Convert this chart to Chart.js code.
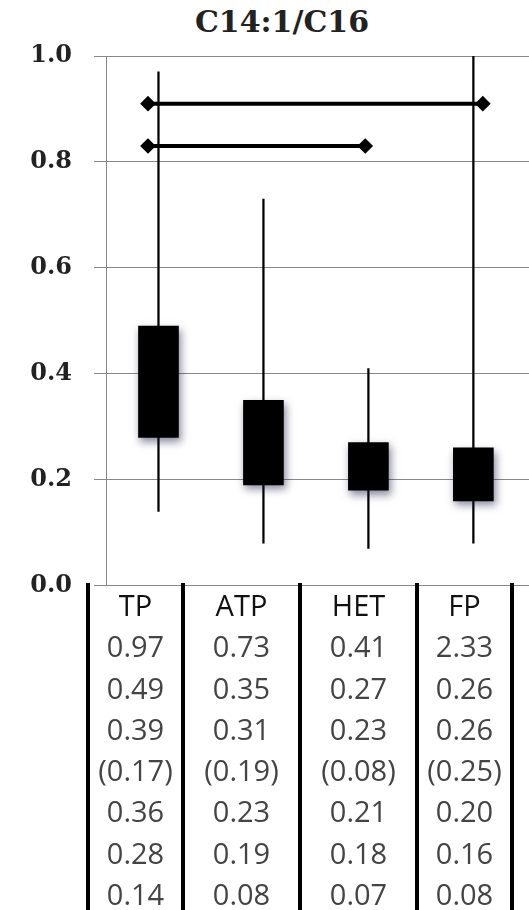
<!DOCTYPE html>
<html>
<head>
<meta charset="utf-8">
<script src="https://cdn.jsdelivr.net/npm/chart.js@4/dist/chart.umd.min.js"></script>
<style>
  html, body { margin: 0; padding: 0; background: #fff; }
  #wrap { position: relative; width: 529px; height: 910px; overflow: hidden; }
  #title { position: absolute; left: 182px; width: 200px; top: 4px; text-align: center;
           font: bold 30px "DejaVu Serif", serif; color: #222; }
  #chart { position: absolute; left: 0; top: 0; }
  .col { position: absolute; top: 584px; text-align: center;
         font: 29px "Open Sans", sans-serif; color: #444; line-height: 41.3px; }
  .col .head { color: #111; }
  .vline { position: absolute; top: 583px; width: 4px; height: 330px; background: #000; }
</style>
</head>
<body>
<div id="wrap">
  <div id="title">C14:1/C16</div>
  <canvas id="chart" width="529" height="622"></canvas>
  <div id="table"></div>
</div>
<script>
const categories = ["TP", "ATP", "HET", "FP"];
const maxVals = [0.97, 0.73, 0.41, 2.33];
const q3Vals = [0.49, 0.35, 0.27, 0.26];
const meanVals = [0.39, 0.31, 0.23, 0.26];
const sdVals = [0.17, 0.19, 0.08, 0.25];
const medianVals = [0.36, 0.23, 0.21, 0.20];
const q1Vals = [0.28, 0.19, 0.18, 0.16];
const minVals = [0.14, 0.08, 0.07, 0.08];

// significance brackets (x in category units)
const bracketHighX = [-0.1, 3.09];
const bracketHighY = [0.91, 0.91];
const bracketLowX = [-0.1, 1.97];
const bracketLowY = [0.83, 0.83];

const boxShadow = {
  id: "boxShadow",
  beforeDatasetDraw(chart, args) {
    if (args.meta.label !== "box") return;
    const ctx = chart.ctx;
    ctx.save();
    ctx.shadowColor = "rgba(20,20,60,0.5)";
    ctx.shadowBlur = 8;
    ctx.shadowOffsetX = 2;
    ctx.shadowOffsetY = 4;
  },
  afterDatasetDraw(chart, args) {
    if (args.meta.label !== "box") return;
    chart.ctx.restore();
  }
};

new Chart(document.querySelector("#chart"), {
  type: "bar",
  data: {
    datasets: [
      {
        label: "whisker",
        data: categories.map((c, i) => ({ x: i, y: [minVals[i], maxVals[i]] })),
        backgroundColor: "#000",
        barThickness: 1.6,
        grouped: false,
        order: 3
      },
      {
        label: "box",
        data: categories.map((c, i) => ({ x: i, y: [q1Vals[i], q3Vals[i]] })),
        backgroundColor: "#000",
        barThickness: 40,
        grouped: false,
        order: 2
      },
      {
        type: "line",
        label: "bracketHigh",
        data: bracketHighX.map((x, i) => ({ x: x, y: bracketHighY[i] })),
        borderColor: "#000",
        backgroundColor: "#000",
        borderWidth: 4,
        pointStyle: "rectRot",
        pointRadius: 5,
        order: 1
      },
      {
        type: "line",
        label: "bracketLow",
        data: bracketLowX.map((x, i) => ({ x: x, y: bracketLowY[i] })),
        borderColor: "#000",
        backgroundColor: "#000",
        borderWidth: 4,
        pointStyle: "rectRot",
        pointRadius: 5,
        order: 1
      }
    ]
  },
  options: {
    responsive: false,
    animation: false,
    devicePixelRatio: 1,
    layout: { autoPadding: false, padding: { top: 56, bottom: 0, left: 0, right: 0 } },
    plugins: { legend: { display: false }, tooltip: { enabled: false }, title: { display: false } },
    scales: {
      x: {
        type: "linear",
        min: -0.5,
        max: 3.53,
        offset: false,
        display: false
      },
      y: {
        min: 0,
        max: 1,
        afterFit(scale) { scale.width = 106; },
        ticks: {
          stepSize: 0.2,
          padding: 22,
          color: "#222",
          font: { family: "DejaVu Serif", size: 24, weight: "bold" },
          callback: (v) => v.toFixed(1)
        },
        grid: { color: "#888", lineWidth: 1, tickLength: 12 },
        border: { color: "#888", width: 1 }
      }
    }
  },
  plugins: [boxShadow]
});

// table under the chart
const colEdges = [88, 183, 300, 417, 512];
const rows = [maxVals, q3Vals, meanVals, sdVals, medianVals, q1Vals, minVals];
const table = document.querySelector("#table");
colEdges.forEach((x) => {
  const v = document.createElement("div");
  v.className = "vline";
  v.style.left = (x - 2) + "px";
  table.appendChild(v);
});
categories.forEach((cat, i) => {
  const col = document.createElement("div");
  col.className = "col";
  col.style.left = colEdges[i] + "px";
  col.style.width = (colEdges[i + 1] - colEdges[i]) + "px";
  let html = '<div class="head">' + cat + "</div>";
  rows.forEach((r) => {
    const txt = r[i].toFixed(2);
    html += "<div>" + (r === sdVals ? "(" + txt + ")" : txt) + "</div>";
  });
  col.innerHTML = html;
  table.appendChild(col);
});
</script>
</body>
</html>
